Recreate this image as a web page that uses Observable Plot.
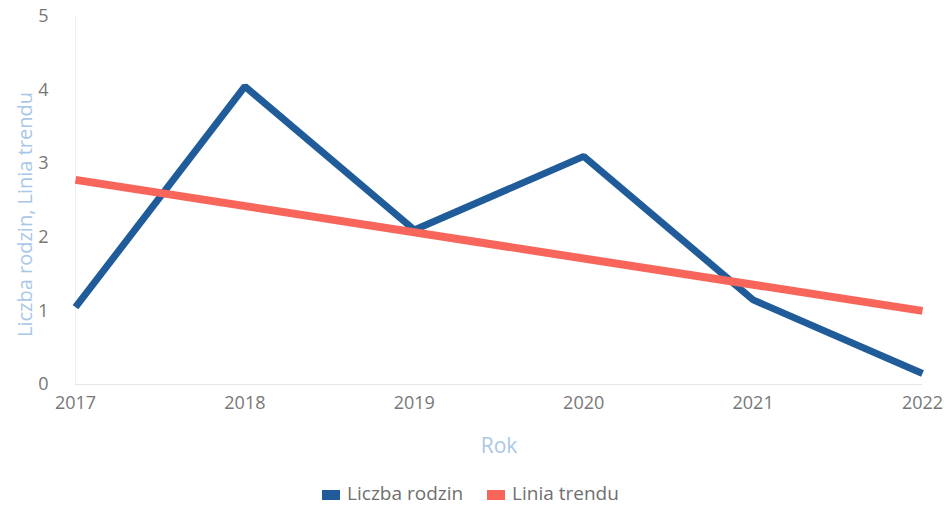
<!DOCTYPE html>
<html>
<head>
<meta charset="utf-8">
<script src="https://cdn.jsdelivr.net/npm/d3@7"></script>
<script src="https://cdn.jsdelivr.net/npm/@observablehq/plot@0.6"></script>
<style>
  html, body { margin: 0; padding: 0; background: #fff; }
  body { width: 947px; height: 508px; overflow: hidden; font-family: "Open Sans", sans-serif; }
  #chart svg { display: block; }
  g[aria-label="y-axis label"] text, g[aria-label="x-axis label"] text { fill: #a9c7e6; }
  g[aria-label="y-axis label"] text { font-size: 20px; }
  g[aria-label="x-axis label"] text { font-size: 21px; }
  .legend { display: flex; justify-content: center; align-items: center; gap: 24px; margin-top: 14px; font-size: 19px; color: #6f6f6f; margin-left: -6px; }
  .legend span.item { display: flex; align-items: center; gap: 7px; }
  .legend span.sw { width: 18px; height: 10px; display: inline-block; margin-top: 4px; }
</style>
</head>
<body>
<div id="chart"></div>
<script>
// Data
const years = [2017, 2018, 2019, 2020, 2021, 2022];
const families = [1.05, 4.05, 2.1, 3.1, 1.15, 0.15];
const trendYears = [2017, 2022];
const trendValues = [2.78, 1.0];
const yTicks = [0, 1, 2, 3, 4, 5];
const seriesNames = ["Liczba rodzin", "Linia trendu"];
const seriesColors = ["#1f5c99", "#f8665b"];

const familyData = years.map((y, i) => ({ year: y, value: families[i] }));
const trendData = trendYears.map((y, i) => ({ year: y, value: trendValues[i] }));

const chart = Plot.plot({
  width: 947,
  height: 466,
  marginLeft: 75,
  marginRight: 25,
  marginTop: 16,
  marginBottom: 82,
  style: { fontFamily: "Open Sans, sans-serif", fontSize: "17px", color: "#777", background: "#fff" },
  x: { domain: [2017, 2022] },
  y: { domain: [0, 5] },
  marks: [
    Plot.ruleY([0], { stroke: "#e6e6e6", strokeWidth: 1 }),
    Plot.ruleX([2017], { stroke: "#f0f0f0", strokeWidth: 1 }),
    Plot.axisY({ ticks: yTicks, tickFormat: d3.format("d"), tickSize: 0, tickPadding: 27, label: "Liczba rodzin, Linia trendu", labelAnchor: "center", labelArrow: "none", labelOffset: 58, fontSize: 18 }),
    Plot.axisX({ ticks: years, tickFormat: d3.format("d"), tickSize: 0, tickPadding: 12, label: "Rok", labelAnchor: "center", labelArrow: "none", labelOffset: 68, fontSize: 18 }),
    Plot.line(familyData, { x: "year", y: "value", stroke: seriesColors[0], strokeWidth: 7, strokeLinejoin: "miter", strokeLinecap: "butt" }),
    Plot.line(trendData, { x: "year", y: "value", stroke: seriesColors[1], strokeWidth: 8, strokeLinecap: "butt" })
  ]
});
document.getElementById("chart").appendChild(chart);
const yl = chart.querySelector('g[aria-label="y-axis label"]');
if (yl) yl.setAttribute("transform", (yl.getAttribute("transform") || "") + " translate(0,14)");

const legend = document.createElement("div");
legend.className = "legend";
seriesNames.forEach((n, i) => {
  const item = document.createElement("span");
  item.className = "item";
  const sw = document.createElement("span");
  sw.className = "sw";
  sw.style.background = seriesColors[i];
  const t = document.createElement("span");
  t.textContent = n;
  item.appendChild(sw);
  item.appendChild(t);
  legend.appendChild(item);
});
document.getElementById("chart").appendChild(legend);
</script>
</body>
</html>
